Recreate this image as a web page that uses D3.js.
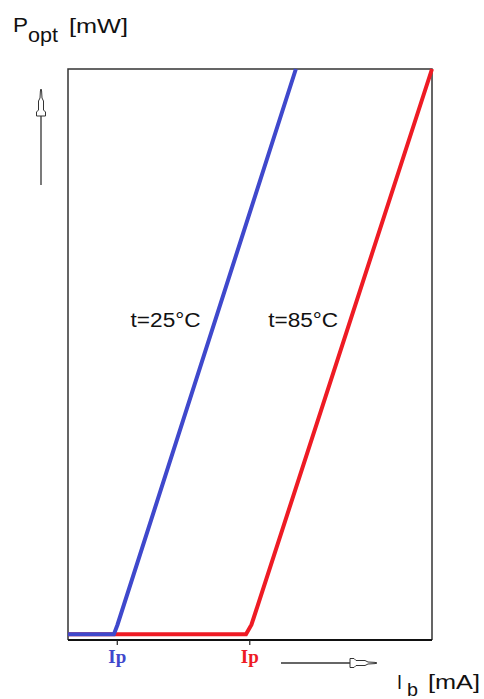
<!DOCTYPE html>
<html>
<head>
<meta charset="utf-8">
<script src="https://cdn.jsdelivr.net/npm/d3@7"></script>
<style>
  body { margin: 0; background: #fff; }
  svg { display: block; }
</style>
</head>
<body>
<div id="chart-area"></div>
<script>
// P_opt vs I_b, laser diode at two temperatures (relative units)
const blueCurrent = [0, 12.6, 13.6, 62.6];
const bluePower = [0, 0, 1.7, 100];
const redCurrent = [0, 48.9, 50.4, 100];
const redPower = [0, 0, 1.7, 100];
const thresholdTicks = [13.4, 49.8];
const thresholdLabels = ["Ip", "Ip"];
const seriesLabels = ["t=25°C", "t=85°C"];
const labelAt = [[17.2, 54.4], [55, 54.4]];

const full_width = 484, full_height = 699;
const margin = { left: 68, right: 52, top: 69, bottom: 59 };
const width = full_width - margin.left - margin.right,
      height = full_height - margin.top - margin.bottom;

const sans = "'Liberation Sans', Arial, sans-serif";

const svg = d3.select("#chart-area").append("svg")
    .attr("width", full_width).attr("height", full_height);

const g = svg.append("g").attr("transform", "translate(" + margin.left + ", " + margin.top + ")");

const x = d3.scaleLinear().domain([0, 100]).range([0, width]);
const y = d3.scaleLinear().domain([-1, 100]).range([height, 0]);

// frame
g.append("path")
    .attr("d", "M0," + height + "V0H" + width + "V" + height)
    .attr("fill", "none")
    .attr("stroke", "#333")
    .attr("stroke-width", 1.5);

const line = d3.line().x(d => x(d[0])).y(d => y(d[1]));

g.append("path")
    .datum(d3.zip(redCurrent, redPower))
    .attr("d", line)
    .attr("fill", "none")
    .attr("stroke", "#ee1b24")
    .attr("stroke-width", 4);

g.append("path")
    .datum(d3.zip(blueCurrent, bluePower))
    .attr("d", line)
    .attr("fill", "none")
    .attr("stroke", "#3f48cc")
    .attr("stroke-width", 4);

// bottom axis with the two threshold marks
const xAxisCall = d3.axisBottom(x).tickValues(thresholdTicks).tickSize(5)
    .tickFormat((d, i) => thresholdLabels[i]);

const xAxis = g.append("g")
    .attr("transform", "translate(0, " + height + ")")
    .call(xAxisCall);
xAxis.select(".domain").attr("stroke", "#111").attr("stroke-width", 2).attr("d", "M0,0H" + width);
xAxis.selectAll(".tick line").attr("stroke", "#222").attr("stroke-width", 1.2);
xAxis.selectAll(".tick text")
    .attr("y", 10)
    .attr("font-family", "'Liberation Serif', 'Times New Roman', serif")
    .attr("font-weight", "bold")
    .attr("font-size", "19px")
    .attr("fill", (d, i) => i === 0 ? "#3f48cc" : "#ee1b24");

// temperature labels
g.selectAll(".series-label").data(seriesLabels).enter()
    .append("text")
    .attr("class", "series-label")
    .attr("x", (d, i) => x(labelAt[i][0]))
    .attr("y", (d, i) => y(labelAt[i][1]))
    .attr("font-family", sans)
    .attr("font-size", "20px")
    .attr("textLength", 70)
    .attr("lengthAdjust", "spacingAndGlyphs")
    .attr("fill", "#111")
    .text(d => d);

// axis titles, each piece placed on its own
function title(str, px, py, size, len) {
    svg.append("text")
        .attr("x", px).attr("y", py)
        .attr("font-family", sans)
        .attr("font-size", size + "px")
        .attr("textLength", len)
        .attr("lengthAdjust", "spacingAndGlyphs")
        .attr("fill", "#111")
        .text(str);
}
title("P", 13, 32, 21, 15);
title("opt", 28, 42, 20, 30);
title("[mW]", 69, 33, 21, 59);
title("I", 397, 689, 21, 5);
title("b", 407, 696, 19, 11);
title("[mA]", 428, 689, 21, 52);

// open arrows beside the titles
const arrowHead = [[0, -4.5], [4, -4.5], [6, -2.5], [15, -2.5], [18, -1], [25, -0.6], [27, 0],
                   [25, 0.6], [18, 1], [15, 2.5], [6, 2.5], [4, 4.5], [0, 4.5]];

function drawArrow(x0, y0, stem, angle) {
    const a = svg.append("g")
        .attr("transform", "translate(" + x0 + "," + y0 + ") rotate(" + angle + ")");
    a.append("line")
        .attr("x1", -stem).attr("x2", 0).attr("y1", 0).attr("y2", 0)
        .attr("stroke", "#333").attr("stroke-width", 1.3);
    a.append("path")
        .attr("d", d3.line()(arrowHead) + "Z")
        .attr("fill", "#fff")
        .attr("stroke", "#333")
        .attr("stroke-width", 1);
}

drawArrow(41, 116, 69, -90);
drawArrow(350, 663, 69, 0);
</script>
</body>
</html>
